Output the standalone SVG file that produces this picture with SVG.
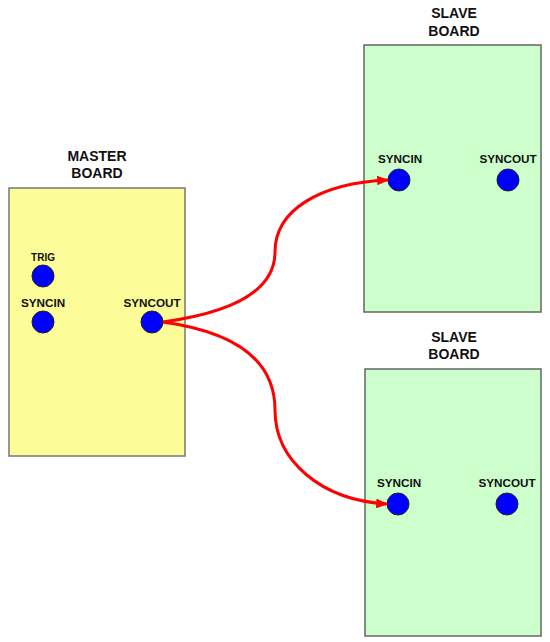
<svg xmlns="http://www.w3.org/2000/svg" width="550" height="642" viewBox="0 0 550 642">
<defs>
<style>
.master{fill:#FCFC99;stroke:#777;stroke-width:1.5}
.slave{fill:#CCFFCC;stroke:#666;stroke-width:1.5}
.port{fill:#0000FF;stroke:#222;stroke-width:1}
.title{font-family:"Liberation Sans",Arial,sans-serif;font-weight:bold;font-size:14px;fill:#111;text-anchor:middle}
.lbl{font-family:"Liberation Sans",Arial,sans-serif;font-weight:bold;font-size:11.7px;fill:#111;text-anchor:middle}
.small{font-size:10px}
.wire{fill:none;stroke:#FF0000;stroke-width:3}
</style>
<marker id="arr" viewBox="0 0 10 10" refX="9" refY="5" markerWidth="4" markerHeight="3.2" orient="auto" markerUnits="strokeWidth" preserveAspectRatio="none">
<path d="M0,0 L10,5 L0,10 Z" fill="#FF0000"/>
</marker>
</defs>
<rect width="550" height="642" fill="#FFFFFF"/>
<g id="master">
<text class="title" x="97" y="161">MASTER</text>
<text class="title" x="97" y="178">BOARD</text>
<rect class="master" x="9" y="188" width="176" height="268"/>
<text class="lbl small" x="43" y="261">TRIG</text>
<circle class="port" cx="43" cy="276" r="11"/>
<text class="lbl" x="43" y="307">SYNCIN</text>
<circle class="port" cx="43" cy="322" r="11"/>
<text class="lbl" x="152" y="307">SYNCOUT</text>
<circle class="port" cx="152" cy="322" r="11"/>
</g>
<g id="slave1">
<text class="title" x="454" y="18">SLAVE</text>
<text class="title" x="454" y="36">BOARD</text>
<rect class="slave" x="364" y="45" width="177" height="267"/>
<text class="lbl" x="400" y="163">SYNCIN</text>
<circle class="port" cx="399" cy="180" r="11"/>
<text class="lbl" x="508" y="163">SYNCOUT</text>
<circle class="port" cx="508" cy="180" r="11"/>
</g>
<g id="slave2">
<text class="title" x="454" y="342">SLAVE</text>
<text class="title" x="454" y="359">BOARD</text>
<rect class="slave" x="365" y="369" width="176" height="267"/>
<text class="lbl" x="399" y="487">SYNCIN</text>
<circle class="port" cx="398" cy="504" r="11"/>
<text class="lbl" x="507" y="487">SYNCOUT</text>
<circle class="port" cx="507" cy="504" r="11"/>
</g>
<g id="connectors">
<path class="wire" marker-end="url(#arr)" d="M163,322 C235,312 275,290 275,252 C275,210 320,183 388,180"/>
<path class="wire" marker-end="url(#arr)" d="M163,322 C235,332 275,360 275,410 C275,460 320,500 387,504"/>
</g>
</svg>
